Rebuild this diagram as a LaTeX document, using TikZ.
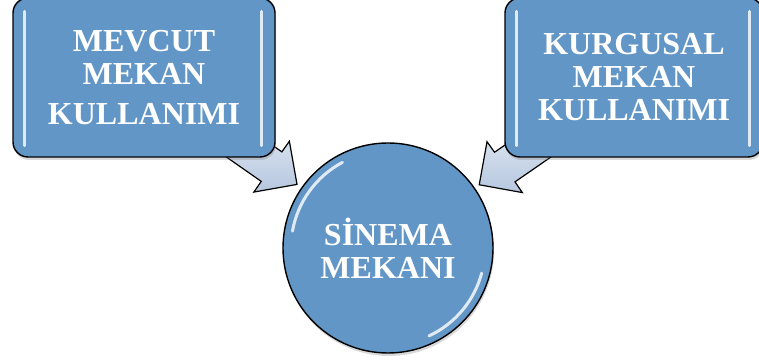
\documentclass[tikz,border=0pt]{standalone}
\usepackage{fontspec}
\setmainfont{Liberation Serif}
\usetikzlibrary{calc,shadows,backgrounds}
\definecolor{kutumavi}{RGB}{98,150,199}
\definecolor{okkoyu}{RGB}{182,199,223}
\definecolor{okacik}{RGB}{236,241,248}
\tikzset{
  yazi/.style={text=white, font=\fontsize{32}{33}\selectfont\bfseries, align=center},
  kutu/.style={yazi, draw=black, line width=1.4pt, fill=kutumavi, rounded corners=15pt, inner sep=0pt,
    drop shadow={opacity=0.3, shadow xshift=1pt, shadow yshift=-3pt}},
  daire/.style={yazi, circle, draw=black, line width=1.4pt, fill=kutumavi, inner sep=0pt, minimum size=210pt,
    drop shadow={opacity=0.3, shadow xshift=1pt, shadow yshift=-3pt}},
  blokok/.style={draw=black, line width=1.2pt, top color=okacik, bottom color=okkoyu, line join=miter},
  parlak/.style={white, line width=3pt, opacity=0.8, line cap=round},
}
\begin{document}
\begin{tikzpicture}[x=1pt,y=1pt]
  \useasboundingbox (0,0) rectangle (759,363);
  % kutular ve daire
  \node[kutu, minimum width=262pt, minimum height=159pt] (sol) at (144,285.5) {MEVCUT\\MEKAN\\[7pt]KULLANIMI};
  \node[kutu, minimum width=258pt, minimum height=159pt] (sag) at (634,285.5) {KURGUSAL\\MEKAN\\KULLANIMI};
  \node[daire] (sinema) at (388,115) {SİNEMA\\MEKANI};
  % parlak kenarlar
  \foreach \k in {sol,sag} {
    \draw[parlak] ([shift={(12pt,-14pt)}]\k.north west) -- ([shift={(12pt,12pt)}]\k.south west);
    \draw[parlak] ([shift={(-14pt,-14pt)}]\k.north east) -- ([shift={(-14pt,12pt)}]\k.south east);
  }
  \draw[parlak] ($(sinema.center)+(118:97)$) arc (118:170:97);
  \draw[parlak] ($(sinema.center)+(-65:97)$) arc (-65:-15:97);
  % oklar
  \begin{scope}[on background layer]
    \foreach \k in {sol,sag} {
      \coordinate (uc\k) at ($(sinema.center)!111pt!(\k.center)$);
      \draw[blokok] (uc\k) -- ($(uc\k)!43.8pt!45:(\k.center)$) -- ($(uc\k)!35.9pt!30.1:(\k.center)$)
        -- ($(uc\k)!111.5pt!9.3:(\k.center)$) -- ($(uc\k)!111.5pt!-9.3:(\k.center)$)
        -- ($(uc\k)!35.9pt!-30.1:(\k.center)$) -- ($(uc\k)!43.8pt!-45:(\k.center)$) -- cycle;
    }
  \end{scope}
\end{tikzpicture}
\end{document}
